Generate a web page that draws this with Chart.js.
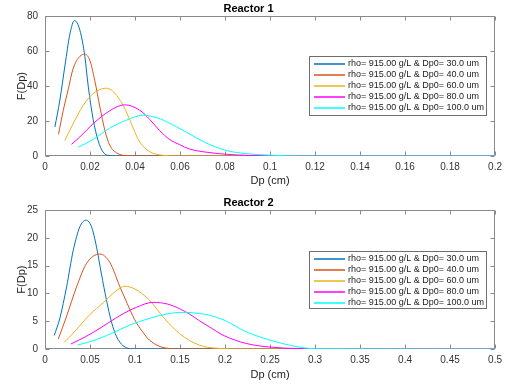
<!DOCTYPE html>
<html>
<head>
<meta charset="utf-8">
<script src="https://cdn.jsdelivr.net/npm/chart.js@4.4.1/dist/chart.umd.min.js"></script>
<style>
  html, body { margin: 0; padding: 0; background: #fff; }
  .plot { position: absolute; left: 0; width: 507px; height: 194px; }
</style>
</head>
<body>
<div class="plot" style="top:0"><canvas id="reactor1" width="507" height="194"></canvas></div>
<div class="plot" style="top:194px"><canvas id="reactor2" width="507" height="194"></canvas></div>
<script>
// legend text, same for both reactors
const legendLabels = [
  "rho= 915.00 g/L & Dp0= 30.0 um",
  "rho= 915.00 g/L & Dp0= 40.0 um",
  "rho= 915.00 g/L & Dp0= 60.0 um",
  "rho= 915.00 g/L & Dp0= 80.0 um",
  "rho= 915.00 g/L & Dp0= 100.0 um",
];
const seriesColors = ["#0072BD", "#D95319", "#EDB120", "#FF00FF", "#00FFFF"];

// === Reactor 1 (Dp in cm, F(Dp)) ===
const r1Dp30 = [0.0044, 0.0066, 0.0089, 0.0111, 0.0131, 0.0155, 0.0177, 0.0192, 0.0214, 0.0236, 0.0258, 0.0288, 0.0317, 0.2];
const r1F30 = [16.6, 32, 52, 70, 77.5, 72, 57, 40, 21, 8.8, 2.3, 0.2, 0, 0];
const r1Dp40 = [0.006, 0.0081, 0.0103, 0.0125, 0.0155, 0.0177, 0.0199, 0.0221, 0.0244, 0.0266, 0.0288, 0.0317, 0.0347, 0.0391, 0.2];
const r1F40 = [12.4, 26, 38, 50, 57, 58.2, 54.8, 43.3, 28, 14.7, 6.1, 1.9, 0.4, 0, 0];
const r1Dp60 = [0.0088, 0.0125, 0.017, 0.0214, 0.027, 0.0288, 0.031, 0.0347, 0.0376, 0.0398, 0.0421, 0.0465, 0.0524, 0.06, 0.2];
const r1F60 = [8.8, 18.5, 29, 35.7, 38.8, 38.3, 36, 29, 21, 14, 8, 2.5, 0.4, 0, 0];
const r1Dp80 = [0.0118, 0.0155, 0.0214, 0.0288, 0.0354, 0.0421, 0.0465, 0.051, 0.0553, 0.0598, 0.0642, 0.0716, 0.0804, 0.091, 0.105, 0.2];
const r1F80 = [6.7, 10.9, 18.5, 25.9, 29.3, 26.2, 21, 14.5, 9.5, 6.5, 4.0, 2.2, 1.0, 0.3, 0, 0];
const r1Dp100 = [0.0148, 0.0214, 0.0288, 0.0362, 0.0435, 0.05, 0.0553, 0.0627, 0.0716, 0.0804, 0.089, 0.0996, 0.115, 0.2];
const r1F100 = [5, 9.5, 16, 20.5, 23.3, 21.8, 18.8, 13.7, 7.5, 3.2, 1.4, 0.5, 0, 0];

// === Reactor 2 ===
const r2Dp30 = [0.0103, 0.0166, 0.024, 0.0314, 0.0387, 0.0454, 0.0517, 0.0572, 0.0627, 0.0683, 0.0738, 0.0793, 0.0867, 0.0978, 0.5];
const r2F30 = [2.45, 5.6, 11.2, 17.8, 22, 23.2, 22, 18.4, 13.5, 8.8, 4.9, 2.3, 0.6, 0, 0];
const r2Dp40 = [0.0148, 0.024, 0.0351, 0.0461, 0.0609, 0.072, 0.083, 0.0913, 0.0996, 0.108, 0.116, 0.133, 0.15, 0.5];
const r2F40 = [1.8, 5.9, 11.2, 15.4, 17.1, 15.6, 11.3, 8.2, 5.3, 3.2, 1.6, 0.2, 0, 0];
const r2Dp60 = [0.0214, 0.035, 0.0498, 0.0646, 0.0793, 0.0885, 0.1, 0.116, 0.1327, 0.1493, 0.1714, 0.19, 0.22, 0.5];
const r2F60 = [1.2, 3.5, 6.2, 8.3, 10.5, 11.3, 10.8, 8.8, 5.5, 2.8, 0.7, 0.15, 0, 0];
const r2Dp80 = [0.0288, 0.0461, 0.0646, 0.083, 0.1015, 0.12, 0.136, 0.149, 0.1605, 0.1714, 0.1825, 0.199, 0.2235, 0.25, 0.28, 0.32, 0.5];
const r2F80 = [0.9, 2.3, 4.1, 6.0, 7.5, 8.4, 8.1, 7.3, 6.3, 5.1, 4.0, 2.4, 1.0, 0.35, 0.08, 0, 0];
const r2Dp100 = [0.0362, 0.0572, 0.0793, 0.094, 0.116, 0.135, 0.153, 0.1714, 0.1825, 0.199, 0.2235, 0.25, 0.2755, 0.3, 0.5];
const r2F100 = [0.7, 1.7, 3.2, 4.3, 5.5, 6.3, 6.6, 6.4, 6.1, 5.2, 3.1, 1.6, 0.55, 0.05, 0];

const FONT = "'Liberation Sans', Arial, Helvetica, sans-serif";

function toPoints(xs, ys) {
  return xs.map((x, i) => ({ x: x, y: ys[i] }));
}

// MATLAB-like box, inward ticks and a legend inside the axes
const matlabAxes = {
  id: "matlabAxes",
  beforeDatasetsDraw(chart) {
    const { ctx, chartArea: a, scales } = chart;
    const L = Math.round(a.left) + 0.5, R = Math.round(a.right) - 0.5;
    const T = Math.round(a.top) + 0.5, B = Math.round(a.bottom) - 0.5;
    ctx.save();
    ctx.strokeStyle = "#8a8a8a";
    ctx.lineWidth = 1;
    ctx.beginPath();
    ctx.rect(L, T, R - L, B - T);
    scales.x.ticks.forEach((t) => {
      const px = Math.round(scales.x.getPixelForValue(t.value)) + 0.5;
      ctx.moveTo(px, B); ctx.lineTo(px, B - 4);
      ctx.moveTo(px, T); ctx.lineTo(px, T + 4);
    });
    scales.y.ticks.forEach((t) => {
      const py = Math.round(scales.y.getPixelForValue(t.value)) + 0.5;
      ctx.moveTo(L, py); ctx.lineTo(L + 4, py);
      ctx.moveTo(R, py); ctx.lineTo(R - 4, py);
    });
    ctx.stroke();
    ctx.restore();
  },
  afterDraw(chart, args, opts) {
    const box = opts.box;
    if (!box) return;
    const ctx = chart.ctx;
    ctx.save();
    ctx.fillStyle = "#fff";
    ctx.fillRect(box.x, box.y, box.w, box.h);
    ctx.strokeStyle = "#6e6e6e";
    ctx.lineWidth = 1;
    ctx.strokeRect(box.x + 0.5, box.y + 0.5, box.w, box.h);
    ctx.font = "9px " + FONT;
    ctx.textBaseline = "middle";
    ctx.fillStyle = "#222";
    chart.data.datasets.forEach((ds, i) => {
      const y = box.y + 8 + i * 11;
      ctx.strokeStyle = ds.borderColor;
      ctx.lineWidth = 1.5;
      ctx.beginPath();
      ctx.moveTo(box.x + 5, y);
      ctx.lineTo(box.x + 36, y);
      ctx.stroke();
      ctx.fillText(ds.label, box.x + 39, y);
    });
    ctx.restore();
  },
};

function buildChart(canvasId, title, series, xMax, xStep, yMax, yStep, xAxisHeight, legendBox) {
  const ctx = document.getElementById(canvasId).getContext("2d");
  const datasets = series.map((s, i) => ({
    label: legendLabels[i],
    data: toPoints(s[0], s[1]),
    borderColor: seriesColors[i],
    borderWidth: 1,
    pointRadius: 0,
    fill: false,
    cubicInterpolationMode: "monotone",
    order: series.length - i,
  }));
  return new Chart(ctx, {
    type: "line",
    data: { datasets: datasets },
    plugins: [matlabAxes],
    options: {
      responsive: false,
      animation: false,
      devicePixelRatio: 1,
      layout: { padding: { left: 0, right: 10, top: 0, bottom: 0 } },
      scales: {
        x: {
          type: "linear",
          min: 0,
          max: xMax,
          grid: { display: false, drawTicks: false },
          border: { display: false },
          ticks: {
            stepSize: xStep,
            autoSkip: false,
            maxRotation: 0,
            padding: 5,
            color: "#333",
            font: { family: FONT, size: 10 },
            callback: (v) => String(+v.toFixed(3)),
          },
          title: {
            display: true,
            text: "Dp (cm)",
            color: "#222",
            font: { family: FONT, size: 11 },
            padding: { top: 0, bottom: 6 },
          },
          afterFit: (scale) => { scale.height = xAxisHeight; },
        },
        y: {
          min: 0,
          max: yMax,
          grid: { display: false, drawTicks: false },
          border: { display: false },
          ticks: {
            stepSize: yStep,
            padding: 7,
            color: "#333",
            font: { family: FONT, size: 10 },
          },
          title: {
            display: true,
            text: "F(Dp)",
            color: "#222",
            font: { family: FONT, size: 11 },
            padding: { top: 15, bottom: 0 },
          },
          afterFit: (scale) => { scale.width = 45; },
        },
      },
      plugins: {
        legend: { display: false },
        tooltip: { enabled: false },
        title: {
          display: true,
          text: title,
          color: "#000",
          font: { family: FONT, size: 11, weight: "bold" },
          padding: { top: 2, bottom: 1 },
        },
        matlabAxes: { box: legendBox },
      },
    },
  });
}

buildChart(
  "reactor1", "Reactor 1",
  [[r1Dp30, r1F30], [r1Dp40, r1F40], [r1Dp60, r1F60], [r1Dp80, r1F80], [r1Dp100, r1F100]],
  0.2, 0.02, 80, 20, 38,
  { x: 309, y: 56, w: 177, h: 59 }
);

buildChart(
  "reactor2", "Reactor 2",
  [[r2Dp30, r2F30], [r2Dp40, r2F40], [r2Dp60, r2F60], [r2Dp80, r2F80], [r2Dp100, r2F100]],
  0.5, 0.05, 25, 5, 39,
  { x: 309, y: 57, w: 177, h: 57 }
);
</script>
</body>
</html>
